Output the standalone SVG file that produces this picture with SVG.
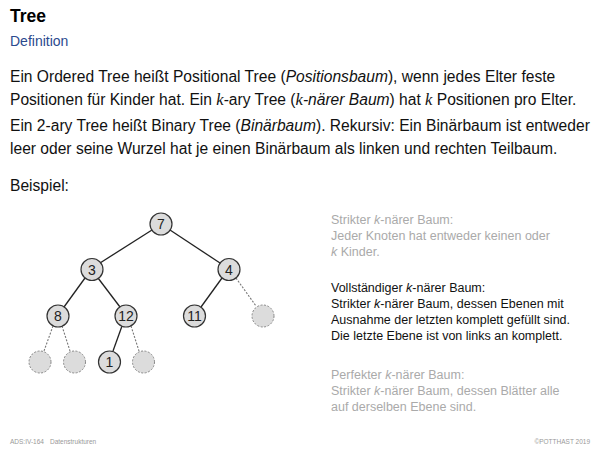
<svg xmlns="http://www.w3.org/2000/svg" width="600" height="450" viewBox="0 0 600 450">
<style>
text{font-family:"Liberation Sans",Arial,sans-serif}
.title{font-size:17.5px;font-weight:bold;fill:#000}
.sub{font-size:14px;fill:#2b4a8e}
.body{font-size:15.6px;fill:#111}
.m{font-family:"Liberation Serif","Times New Roman",serif;font-style:italic;font-size:16.5px}
.side{font-size:12.5px;fill:#aaa}
.sideb{font-size:12.5px;fill:#111}
.foot{font-size:6.5px;fill:#999}
.n circle{fill:#dcdcdc;stroke:#333;stroke-width:1.2}
.e circle{fill:#dcdcdc;stroke:#888;stroke-width:1;stroke-dasharray:2,1.5}
.lbl{font-size:14px;fill:#222;text-anchor:middle}
.s{stroke:#222;stroke-width:1.3;fill:none}
.d{stroke:#777;stroke-width:1.1;stroke-dasharray:2,1.5;fill:none}
</style>
<rect width="600" height="450" fill="#fff"/>
<text class="title" x="10" y="22">Tree</text>
<text class="sub" x="10" y="46">Definition</text>
<text class="body" x="10" y="82">Ein Ordered Tree heißt Positional Tree (<tspan font-style="italic">Positionsbaum</tspan>), wenn jedes Elter feste</text>
<text class="body" x="10" y="105">Positionen für Kinder hat. Ein <tspan class="m">k</tspan>-ary Tree (<tspan class="m">k</tspan><tspan font-style="italic">-närer Baum</tspan>) hat <tspan class="m">k</tspan> Positionen pro Elter.</text>
<text class="body" x="10" y="131">Ein 2-ary Tree heißt Binary Tree (<tspan font-style="italic">Binärbaum</tspan>). Rekursiv: Ein Binärbaum ist entweder</text>
<text class="body" x="10" y="154">leer oder seine Wurzel hat je einen Binärbaum als linken und rechten Teilbaum.</text>
<text class="body" x="10" y="191">Beispiel:</text>
<g id="connectors">
<line class="s" x1="152" y1="230" x2="100" y2="263"/>
<line class="s" x1="170" y1="230" x2="220" y2="263"/>
<line class="s" x1="85" y1="278" x2="64" y2="307"/>
<line class="s" x1="98" y1="278" x2="120" y2="307"/>
<line class="s" x1="222" y1="278" x2="201" y2="307"/>
<line class="d" x1="236" y1="278" x2="256" y2="306"/>
<line class="d" x1="53" y1="326" x2="44" y2="351"/>
<line class="d" x1="62" y1="326" x2="70" y2="351"/>
<line class="s" x1="122" y1="326" x2="113" y2="351"/>
<line class="d" x1="131" y1="326" x2="139" y2="351"/>
</g>
<g id="node-7" class="n"><circle cx="161" cy="224" r="11"/><text class="lbl" x="161" y="229">7</text></g>
<g id="node-3" class="n"><circle cx="92" cy="269.5" r="11"/><text class="lbl" x="92" y="274.5">3</text></g>
<g id="node-4" class="n"><circle cx="229" cy="269.5" r="11"/><text class="lbl" x="229" y="274.5">4</text></g>
<g id="node-8" class="n"><circle cx="58" cy="316" r="11"/><text class="lbl" x="58" y="321">8</text></g>
<g id="node-12" class="n"><circle cx="126" cy="316" r="11"/><text class="lbl" x="126" y="321">12</text></g>
<g id="node-11" class="n"><circle cx="194.5" cy="316" r="11"/><text class="lbl" x="194.5" y="321">11</text></g>
<g id="node-e1" class="e"><circle cx="263" cy="316" r="11"/></g>
<g id="node-e2" class="e"><circle cx="40" cy="362" r="11"/></g>
<g id="node-e3" class="e"><circle cx="74.5" cy="362" r="11"/></g>
<g id="node-1" class="n"><circle cx="109.5" cy="362" r="11"/><text class="lbl" x="109.5" y="367">1</text></g>
<g id="node-e4" class="e"><circle cx="143.5" cy="362" r="11"/></g>
<text class="side" x="331" y="224">Strikter <tspan font-style="italic">k</tspan>-närer Baum:</text>
<text class="side" x="331" y="240">Jeder Knoten hat entweder keinen oder</text>
<text class="side" x="331" y="256"><tspan font-style="italic">k</tspan> Kinder.</text>
<text class="sideb" x="331" y="292">Vollständiger <tspan font-style="italic">k</tspan>-närer Baum:</text>
<text class="sideb" x="331" y="308">Strikter <tspan font-style="italic">k</tspan>-närer Baum, dessen Ebenen mit</text>
<text class="sideb" x="331" y="324">Ausnahme der letzten komplett gefüllt sind.</text>
<text class="sideb" x="331" y="340">Die letzte Ebene ist von links an komplett.</text>
<text class="side" x="331" y="379">Perfekter <tspan font-style="italic">k</tspan>-närer Baum:</text>
<text class="side" x="331" y="395">Strikter <tspan font-style="italic">k</tspan>-närer Baum, dessen Blätter alle</text>
<text class="side" x="331" y="411">auf derselben Ebene sind.</text>
<text class="foot" x="10" y="444">ADS:IV-164<tspan dx="6">Datenstrukturen</tspan></text>
<text class="foot" x="590" y="444" text-anchor="end">©POTTHAST 2019</text>
</svg>
